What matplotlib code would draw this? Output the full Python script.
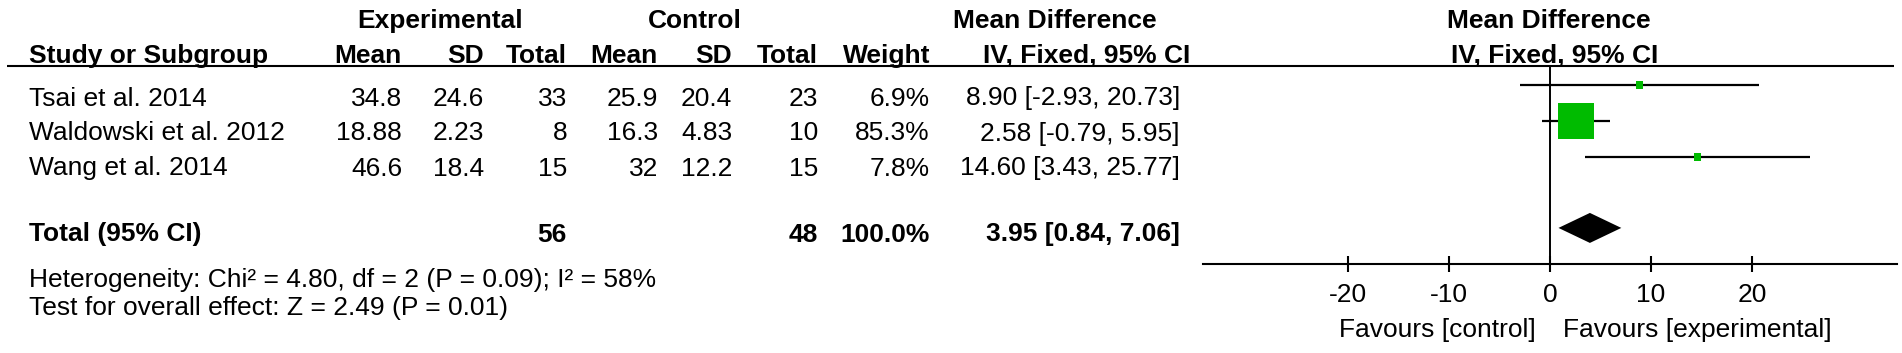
import matplotlib
matplotlib.use('Agg')
import matplotlib.pyplot as plt

plt.rcParams['font.family'] = ['Liberation Sans', 'DejaVu Sans']
plt.rcParams['axes.unicode_minus'] = False

# data
studies = ["Tsai et al. 2014", "Waldowski et al. 2012", "Wang et al. 2014"]
exp_mean = [34.8, 18.88, 46.6]
exp_sd = [24.6, 2.23, 18.4]
exp_total = [33, 8, 15]
ctl_mean = [25.9, 16.3, 32]
ctl_sd = [20.4, 4.83, 12.2]
ctl_total = [23, 10, 15]
weight = [6.9, 85.3, 7.8]
md = [8.90, 2.58, 14.60]
ci_lo = [-2.93, -0.79, 3.43]
ci_hi = [20.73, 5.95, 25.77]

total_exp = 56
total_ctl = 48
total_weight = 100.0
total_md = 3.95
total_lo = 0.84
total_hi = 7.06

heterogeneity = "Heterogeneity: Chi\u00b2 = 4.80, df = 2 (P = 0.09); I\u00b2 = 58%"
overall = "Test for overall effect: Z = 2.49 (P = 0.01)"

tick_vals = [-20, -10, 0, 10, 20]
tick_labels = ["-20", "-10", "0", "10", "20"]

FS = 19
W, H = 1902, 353

fig = plt.figure(figsize=(W / 100, H / 100), dpi=100)

# full figure overlay, in pixels from the top left, for the table text
tab = fig.add_axes([0, 0, 1, 1])
tab.set_xlim(0, W)
tab.set_ylim(H, 0)
tab.axis('off')

# column right edges (the CI column header sits a bit further right)
col_x = [402, 484, 567, 658, 732, 818, 930, 1180]
head_x = [402, 484, 567, 658, 732, 818, 930, 1190]
left_x = 29
row_base = [105.5, 140.5, 175.5]
total_base = 241.5

# headers
tab.text(440, 28, "Experimental", fontsize=FS, fontweight='bold', ha='center', va='baseline')
tab.text(695, 28, "Control", fontsize=FS, fontweight='bold', ha='center', va='baseline')
tab.text(1055, 28, "Mean Difference", fontsize=FS, fontweight='bold', ha='center', va='baseline')
tab.text(1549, 28, "Mean Difference", fontsize=FS, fontweight='bold', ha='center', va='baseline')
tab.text(left_x, 63, "Study or Subgroup", fontsize=FS, fontweight='bold', ha='left', va='baseline')
heads = ["Mean", "SD", "Total", "Mean", "SD", "Total", "Weight", "IV, Fixed, 95% CI"]
for x, h in zip(head_x, heads):
    tab.text(x, 63, h, fontsize=FS, fontweight='bold', ha='right', va='baseline')
tab.text(1555, 63, "IV, Fixed, 95% CI", fontsize=FS, fontweight='bold', ha='center', va='baseline')
tab.plot([7, 1894], [66, 66], color='black', lw=1.5, solid_capstyle='butt')

# study rows
for i in range(len(studies)):
    cells = [f"{exp_mean[i]:g}", f"{exp_sd[i]:g}", str(exp_total[i]),
             f"{ctl_mean[i]:g}", f"{ctl_sd[i]:g}", str(ctl_total[i]),
             f"{weight[i]:.1f}%", f"{md[i]:.2f} [{ci_lo[i]:.2f}, {ci_hi[i]:.2f}]"]
    tab.text(left_x, row_base[i], studies[i], fontsize=FS, ha='left', va='baseline')
    for x, c in zip(col_x, cells):
        tab.text(x, row_base[i], c, fontsize=FS, ha='right', va='baseline')

# total row
tab.text(left_x, total_base, "Total (95% CI)", fontsize=FS, fontweight='bold', ha='left', va='baseline')
tab.text(col_x[2], total_base, str(total_exp), fontsize=FS, fontweight='bold', ha='right', va='baseline')
tab.text(col_x[5], total_base, str(total_ctl), fontsize=FS, fontweight='bold', ha='right', va='baseline')
tab.text(col_x[6], total_base, f"{total_weight:.1f}%", fontsize=FS, fontweight='bold', ha='right', va='baseline')
tab.text(col_x[7], total_base, f"{total_md:.2f} [{total_lo:.2f}, {total_hi:.2f}]",
         fontsize=FS, fontweight='bold', ha='right', va='baseline')
tab.text(left_x, 286.5, heterogeneity, fontsize=FS, ha='left', va='baseline')
tab.text(left_x, 315.5, overall, fontsize=FS, ha='left', va='baseline')

# forest plot, x in mean difference units, y in row units
px_per_unit = 10.1
zero_px = 1550
ax_left, ax_right = 1203, 1897
ax_top, ax_bot = 66, 264
row_px0, row_step = 85, 36

ax = fig.add_axes([ax_left / W, 1 - ax_bot / H, (ax_right - ax_left) / W, (ax_bot - ax_top) / H])
ax.set_xlim((ax_left - zero_px) / px_per_unit, (ax_right - zero_px) / px_per_unit)
ax.set_ylim((ax_bot - row_px0) / row_step, (ax_top - row_px0) / row_step)
ax.patch.set_alpha(0)
for s in ['top', 'left', 'right']:
    ax.spines[s].set_visible(False)
ax.spines['bottom'].set_linewidth(1.5)
ax.set_yticks([])
ax.set_xticks(tick_vals)
ax.set_xticklabels(tick_labels, fontsize=FS)
ax.tick_params(axis='x', direction='inout', length=12, width=1.5, pad=8)

ax.axvline(0, color='black', lw=1.4)

rows = list(range(len(studies)))
ax.hlines(rows, ci_lo, ci_hi, color='black', lw=1.6)
max_w = max(weight)
sizes = [(36 * (w / max_w) ** 0.65 * 0.72) ** 2 for w in weight]
ax.scatter(md, rows, marker='s', s=sizes, color='#00bb00', linewidths=0, zorder=3, clip_on=False)

# pooled diamond
total_row = 3.97
half_h = 15 / row_step
ax.fill([total_lo, total_md, total_hi, total_md],
        [total_row, total_row - half_h, total_row, total_row + half_h], color='black', lw=0)

tab.text(zero_px - 14, 337.5, "Favours [control]", fontsize=FS, ha='right', va='baseline')
tab.text(zero_px + 13, 337.5, "Favours [experimental]", fontsize=FS, ha='left', va='baseline')

fig.savefig('out.png', dpi=100)
